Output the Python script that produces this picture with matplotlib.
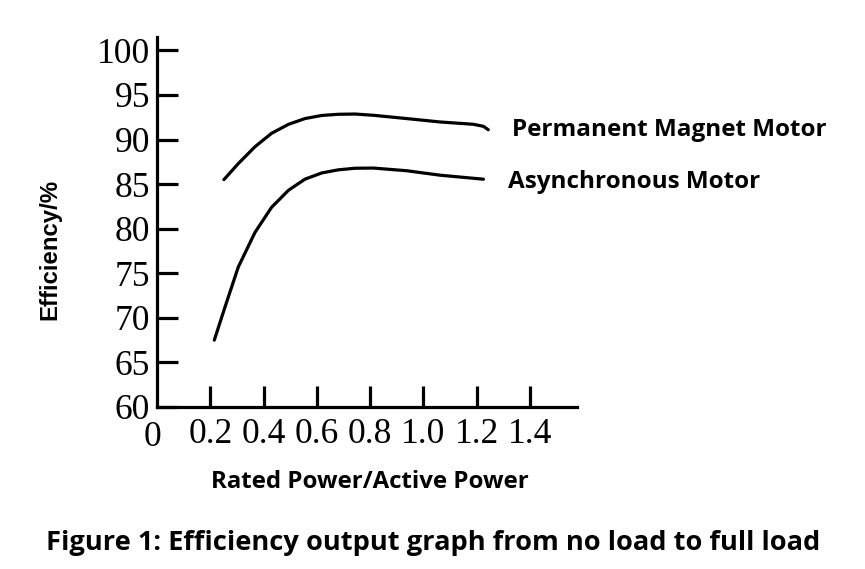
import matplotlib
matplotlib.use("Agg")
import matplotlib.pyplot as plt

# values
pm_x = [0.251, 0.305, 0.368, 0.430, 0.493, 0.555, 0.618, 0.680, 0.743, 0.812,
        0.937, 1.062, 1.187, 1.225, 1.243]
pm_y = [85.5, 87.3, 89.2, 90.7, 91.7, 92.35, 92.7, 92.83, 92.86, 92.72,
        92.35, 91.97, 91.71, 91.48, 91.1]
asyn_x = [0.215, 0.255, 0.305, 0.368, 0.430, 0.493, 0.555, 0.618, 0.680, 0.743,
          0.812, 0.937, 1.062, 1.225]
asyn_y = [67.5, 71.2, 75.7, 79.6, 82.4, 84.3, 85.55, 86.25, 86.6, 86.78,
          86.8, 86.5, 86.0, 85.55]

xticks = [0.2, 0.4, 0.6, 0.8, 1.0, 1.2, 1.4]
xtick_labels = ['0.2', '0.4', '0.6', '0.8', '1.0', '1.2', '1.4']
yticks = [60, 65, 70, 75, 80, 85, 90, 95, 100]

fig = plt.figure(figsize=(8.65, 5.69), dpi=100)
ax = fig.add_axes([157/865, 1 - 407/569, 420/865, 370/569])

ax.plot(pm_x, pm_y, color='black', lw=2.3, solid_capstyle='round')
ax.plot(asyn_x, asyn_y, color='black', lw=2.3, solid_capstyle='round')

ax.set_xlim(0, 1.576)
ax.set_ylim(60, 101.5)
ax.spines['top'].set_visible(False)
ax.spines['right'].set_visible(False)
ax.spines['left'].set_linewidth(2.3)
ax.spines['bottom'].set_linewidth(2.3)

ax.set_xticks(xticks)
ax.set_xticklabels(xtick_labels)
ax.set_yticks(yticks)
ax.tick_params(direction='in', length=15, width=2.3)
ax.tick_params(axis='x', pad=8)
ax.tick_params(axis='y', pad=5)
for lab in ax.get_xticklabels() + ax.get_yticklabels():
    lab.set_family('Liberation Serif')
    lab.set_fontsize(25.5)
# origin label sits a little left of the corner
ax.annotate('0', xy=(0, 60), xytext=(-3, -10), textcoords='offset points',
            ha='center', va='top', family='Liberation Serif', fontsize=25.5)

fig.text(512/865, 1 - 130/569, 'Permanent Magnet Motor', family='Open Sans',
         weight='bold', fontsize=17.5, va='center', ha='left')
fig.text(508/865, 1 - 182/569, 'Asynchronous Motor', family='Open Sans',
         weight='bold', fontsize=17.5, va='center', ha='left')
fig.text(50/865, 1 - 249/569, 'Efficiency/%', family='Liberation Sans',
         weight='bold', fontsize=17.3, rotation=90, va='center', ha='center')
fig.text(370/865, 1 - 482/569, 'Rated Power/Active Power', family='Open Sans',
         weight='bold', fontsize=17.3, va='center', ha='center')
fig.text(433/865, 1 - 543/569, 'Figure 1: Efficiency output graph from no load to full load',
         family='Open Sans', weight='bold', fontsize=19.6, va='center', ha='center')

fig.savefig('out.png', dpi=100)
